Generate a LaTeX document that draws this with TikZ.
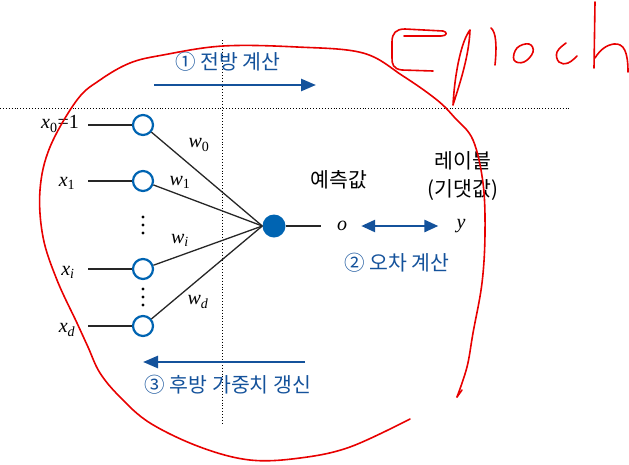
\documentclass[tikz,border=0pt]{standalone}
\usepackage{fontspec}
\setmainfont{Liberation Serif}
\newfontfamily\krfont{Noto Sans CJK KR}
\usetikzlibrary{arrows.meta, positioning}
\definecolor{nodeblue}{RGB}{0, 100, 178}
\definecolor{flowblue}{RGB}{20, 82, 155}
\definecolor{inkred}{RGB}{232, 0, 0}
\newcommand{\vsub}[2]{\textit{#1}\textsubscript{#2}}

\begin{document}
\begin{tikzpicture}[x=1pt, y=-1pt,
  inputnode/.style={circle, draw=nodeblue, line width=2.2pt, fill=white, minimum size=20pt, inner sep=0pt},
  outnode/.style={circle, fill=nodeblue, minimum size=23pt, inner sep=0pt},
  edge/.style={line width=1.3pt, black!85},
  flowarrow/.style={line width=2.6pt, flowblue, -{Triangle[length=15pt, width=12pt]}},
  errarrow/.style={line width=2.6pt, flowblue, {Triangle[length=14pt, width=12pt]}-{Triangle[length=14pt, width=12pt]}},
  mathlbl/.style={font=\fontsize{20}{24}\selectfont, inner sep=1pt},
  krlbl/.style={font=\krfont\fontsize{20.5}{24}\selectfont},
  guide/.style={dotted, line width=0.9pt},
  ink/.style={inkred, line width=1.6pt, line cap=round, line join=round}]
  \useasboundingbox (0,0) rectangle (629,464);

  % dotted guide lines
  \draw[guide] (0,108) -- (570,108);
  \draw[guide] (222,40) -- (222,425);

  % perceptron
  \node[outnode] (out) at (274,226) {};
  \foreach \n/\y in {0/125, 1/181, i/269, d/326} {
    \coordinate (s\n) at (88,\y);
    \node[inputnode] (in\n) at (143,\y) {};
    \draw[edge] (s\n) -- (in\n);
    \draw[edge] (in\n) -- (out.west);
  }
  \node[mathlbl, anchor=east] (lx0) at (80,124) {\vsub{x}{\upshape 0}=1};
  \node[mathlbl] (lx1) at (67,183) {\vsub{x}{\upshape 1}};
  \node[mathlbl] (lxi) at (68,272) {\vsub{x}{\itshape i}};
  \node[mathlbl] (lxd) at (67,330) {\vsub{x}{\itshape d}};
  % vertical dots
  \foreach \y in {217, 225, 233, 289, 297, 305}
    \fill (143,\y) circle (1.7pt);

  % weights
  \node[mathlbl] (w0) at (199,145) {\vsub{w}{\upshape 0}};
  \node[mathlbl] (w1) at (180,182) {\vsub{w}{\upshape 1}};
  \node[mathlbl] (wi) at (180,240) {\vsub{w}{\itshape i}};
  \node[mathlbl] (wd) at (198,302) {\vsub{w}{\itshape d}};

  % output and label
  \node[mathlbl] (o) at (342,226) {\textit{o}};
  \node[mathlbl] (y) at (461,226) {\textit{y}};
  \draw[edge, line width=1.8pt, shorten >=15pt] (out.east) -- (o.west);
  \draw[errarrow, shorten <=13pt, shorten >=17pt] (o.east) -- (y.west);
  \node[krlbl] (pred) at (339,180) {예측값};
  \node[krlbl, font=\krfont\fontsize{20.5}{28}\selectfont, align=center] (target) at (463,176) {레이블\\(기댓값)};
  \node[krlbl, flowblue] (err) at (397,263) {② 오차 계산};

  % forward / backward
  \coordinate (fwdA) at (154,85);
  \coordinate (fwdB) at (316,85);
  \draw[flowarrow] (fwdA) -- (fwdB);
  \node[krlbl, flowblue] (fwd) at (228,62) {① 전방 계산};
  \coordinate (bwdA) at (305,362);
  \coordinate (bwdB) at (143,362);
  \draw[flowarrow] (bwdA) -- (bwdB);
  \node[krlbl, flowblue] (bwd) at (228,385) {③ 후방 가중치 갱신};

  % red loop
  \draw[ink] plot[smooth, tension=0.6] coordinates {
    (410,419) (350,447) (300,458) (250,460) (200,447) (150,423) (120,397)
    (100,373) (88,347) (77,323) (57,280) (43,237) (40,190) (50,147) (77,100)
    (100,80) (130,63) (163,55) (223,46) (297,47) (363,53) (403,76) (437,100)
    (455,118) (473,140) (483,183) (485,233) (482,283) (473,333) (467,367) (457,397)
  };
  \draw[ink] (457,397) -- (462,390);

  % handwritten Epoch
  \draw[ink] (433,71) -- (402,70) .. controls (393,69) and (392,64) .. (392,58)
    -- (392,42) .. controls (392,33) and (396,29) .. (405,29) -- (443,31)
    .. controls (448,32) and (447,36) .. (441,36) -- (404,36);
  \draw[ink] (453,105) .. controls (455,70) and (462,40) .. (470,30)
    .. controls (469,55) and (461,80) .. (453,105);
  \draw[ink] (491,28) .. controls (496,32) and (497,45) .. (495,65);
  \draw[ink] plot[smooth cycle, tension=0.7] coordinates {(514,60) (517,48) (529,44) (533,52) (524,62)};
  \draw[ink] plot[smooth, tension=0.7] coordinates {(566,43) (557,52) (559,62) (568,63) (577,56)};
  \draw[ink] (595,2) -- (594,68);
  \draw[ink] (595,58) .. controls (600,50) and (606,45) .. (614,44)
    .. controls (624,43) and (628,52) .. (628,72);
\end{tikzpicture}
\end{document}
